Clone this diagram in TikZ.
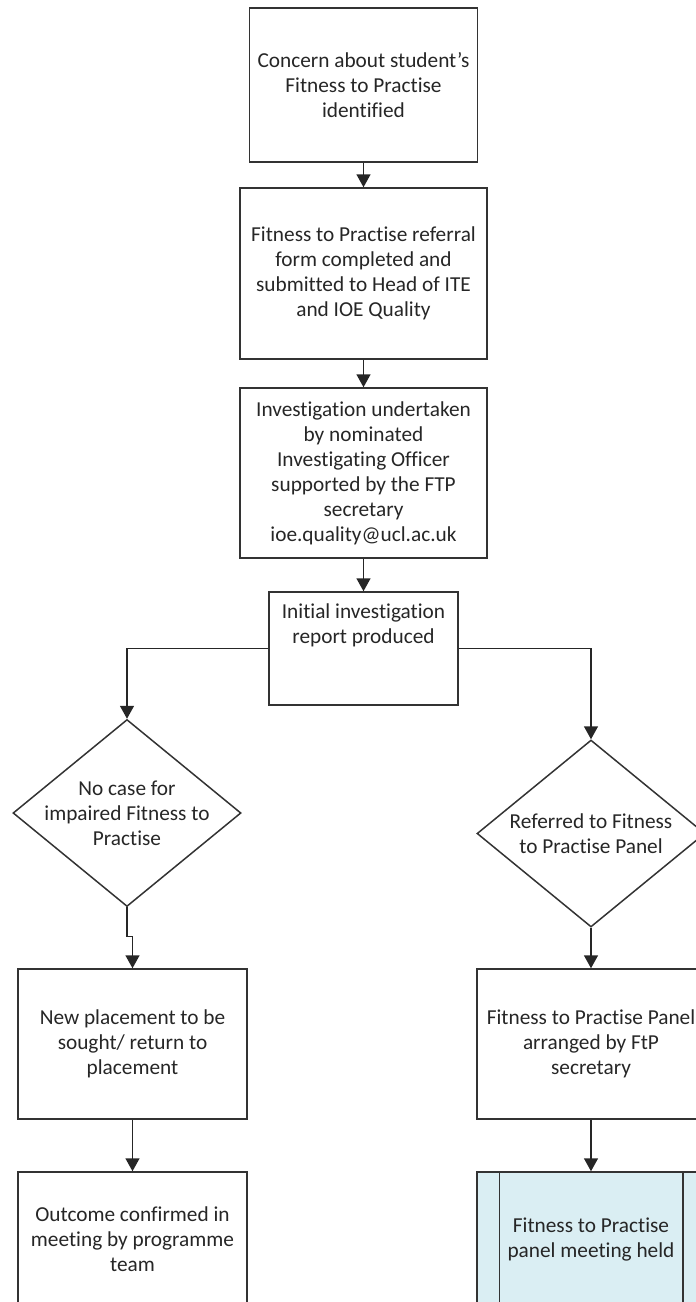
\documentclass[tikz,border=0pt]{standalone}
\usepackage{fontspec}
\setmainfont[Ligatures=NoCommon]{Carlito}
\usetikzlibrary{shapes.geometric,arrows.meta}
\definecolor{panelblue}{HTML}{DAEEF3}

\begin{document}
\begin{tikzpicture}[x=1pt, y=-1pt,
	every node/.style={font=\fontsize{21.3}{25}\selectfont, align=center, text=black!85},
	process/.style={draw=black!80, line width=1.5pt, rectangle, inner sep=0pt, minimum width=228},
	decision/.style={draw=black!80, line width=1.5pt, diamond, inner sep=-60pt, minimum width=228, minimum height=187},
	predef/.style={process, fill=panelblue},
	arrow/.style={-{Triangle[width=14pt,length=13pt]}, line width=1.5pt, draw=black!85}
	]
	
	\clip (0,0) rectangle (696,1302);
	
	% Middle column
	\node[process, minimum height=154] (concern) at (363.5,85) {Concern about student's\\Fitness to Practise\\identified};
	\node[process, minimum width=247, minimum height=171] (referral) at (363.5,273.5) {Fitness to Practise referral\\form completed and\\submitted to Head of ITE\\and IOE Quality};
	\node[process, minimum width=247, minimum height=170] (investigation) at (363.5,473) {Investigation undertaken\\by nominated\\Investigating Officer\\supported by the FTP\\secretary\\ioe.quality@ucl.ac.uk};
	\node[process, minimum width=189, minimum height=113] (initialreport) at (363.5,648.5) {Initial investigation\\report produced\\~\\~};
	
	% Left side nodes
	\node[decision] (nocase) at (127,813) {No case for\\impaired Fitness to\\Practise};
	\node[process, minimum width=229, minimum height=150] (newplacement) at (132.5,1044) {New placement to be\\sought/ return to\\placement};
	\node[process, minimum width=229, minimum height=134] (outcome) at (132.5,1239) {Outcome confirmed in\\meeting by programme\\team};
	
	% Right side nodes
	\node[decision] (referred) at (591,833.5) {Referred to Fitness\\to Practise Panel};
	\node[process, minimum height=150] (arranged) at (591,1044) {Fitness to Practise Panel\\arranged by FtP\\secretary};
	\node[predef, minimum height=134] (panelheld) at (591,1239) {Fitness to Practise\\panel meeting held};
	\draw[line width=1.5pt, draw=black!80] ([xshift=23pt]panelheld.north west) -- ([xshift=23pt]panelheld.south west);
	\draw[line width=1.5pt, draw=black!80] ([xshift=-23pt]panelheld.north east) -- ([xshift=-23pt]panelheld.south east);
	
	% Arrows in middle
	\draw[arrow] (concern) -- (referral);
	\draw[arrow] (referral) -- (investigation);
	\draw[arrow] (investigation) -- (initialreport);
	\draw[arrow] (initialreport.west) -| (nocase.north);
	\draw[arrow] (initialreport.east) -| (referred.north);
	
	% Arrows (Left Side)
	\draw[arrow] (nocase.south) -- ++(0,29) -| (newplacement.north);
	\draw[arrow] (newplacement) -- (outcome);
	
	% Arrows (Right Side)
	\draw[arrow] (referred) -- (arranged);
	\draw[arrow] (arranged) -- (panelheld);
	
\end{tikzpicture}
\end{document}
